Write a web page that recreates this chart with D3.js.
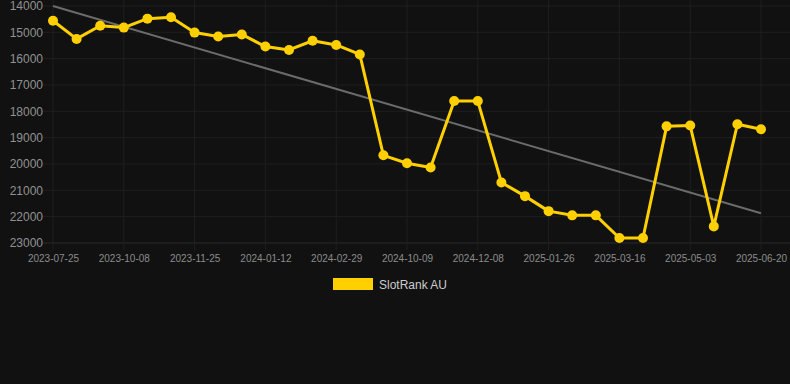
<!DOCTYPE html>
<html>
<head>
<meta charset="utf-8">
<script src="https://cdn.jsdelivr.net/npm/d3@7"></script>
<style>
  html, body { margin: 0; padding: 0; background: #111111; }
  svg { display: block; font-family: "Liberation Sans", Arial, sans-serif; }
</style>
</head>
<body>
<div id="chart"></div>
<script>
// rank values, one per sample (lower rank number = better)
const ranks = [14560, 15250, 14750, 14820, 14480, 14430, 15010, 15160, 15080, 15540,
  15670, 15320, 15480, 15840, 19670, 19970, 20130, 17610, 17610, 20700,
  21220, 21790, 21950, 21950, 22810, 22810, 18570, 18540, 22370, 18490, 18680];
// labels shown on every 3rd sample
const tickLabels = ["2023-07-25", "2023-10-08", "2023-11-25", "2024-01-12", "2024-02-29",
  "2024-10-09", "2024-12-08", "2025-01-26", "2025-03-16", "2025-05-03", "2025-06-20"];
const yTicks = [14000, 15000, 16000, 17000, 18000, 19000, 20000, 21000, 22000, 23000];
const trend = [14000, 21870]; // start / end of trend line
const seriesName = "SlotRank AU";

const W = 790, H = 384;
const svg = d3.select("#chart").append("svg")
  .attr("width", W).attr("height", H);

svg.append("rect").attr("width", W).attr("height", H).attr("fill", "#111111");

const idx = d3.range(ranks.length);
const x = d3.scaleLinear().domain([0, ranks.length - 1]).range([53, 761]);
const y = d3.scaleLinear().domain([14000, 23000]).range([6, 243]);

// horizontal grid
svg.append("g")
  .selectAll("line")
  .data(yTicks)
  .join("line")
  .attr("x1", 43).attr("x2", W)
  .attr("y1", d => y(d)).attr("y2", d => y(d))
  .attr("stroke", d => d == 23000 ? "#2a2a2a" : "#1f1f1f")
  .attr("stroke-width", 1);

// vertical grid at every 3rd point
const xTickIdx = idx.filter(i => i % 3 == 0);
svg.append("g")
  .selectAll("line")
  .data(xTickIdx)
  .join("line")
  .attr("x1", d => x(d)).attr("x2", d => x(d))
  .attr("y1", 0).attr("y2", 250)
  .attr("stroke", "#1f1f1f");

// y axis
const yAxis = svg.append("g")
  .attr("transform", "translate(43,0)")
  .call(d3.axisLeft(y).tickValues(yTicks).tickSize(0).tickPadding(0).tickFormat(d3.format("d")));
yAxis.select(".domain").remove();
yAxis.selectAll("text").attr("fill", "#919191").style("font-size", "12px");

// x axis
const xAxis = svg.append("g")
  .attr("transform", "translate(0,243)")
  .call(d3.axisBottom(x).tickValues(xTickIdx).tickSize(0).tickPadding(12)
    .tickFormat(d => tickLabels[d / 3]));
xAxis.select(".domain").remove();
xAxis.selectAll("text").attr("fill", "#8c8c8c").style("font-size", "10px");

// trend line
svg.append("line")
  .attr("x1", x(0)).attr("y1", y(trend[0]))
  .attr("x2", x(ranks.length - 1)).attr("y2", y(trend[1]))
  .attr("stroke", "#6b6b6b")
  .attr("stroke-width", 2);

// series line
const line = d3.line().x(i => x(i)).y(i => y(ranks[i]));
svg.append("path")
  .datum(idx)
  .attr("d", line)
  .attr("fill", "none")
  .attr("stroke", "#ffd000")
  .attr("stroke-width", 3)
  .attr("stroke-linejoin", "round");

svg.append("g")
  .selectAll("circle")
  .data(idx)
  .join("circle")
  .attr("cx", i => x(i))
  .attr("cy", i => y(ranks[i]))
  .attr("r", 5)
  .attr("fill", "#ffd000");

// legend
svg.append("rect")
  .attr("x", 333).attr("y", 278)
  .attr("width", 40).attr("height", 12)
  .attr("fill", "#ffd000");
svg.append("text")
  .attr("x", 379).attr("y", 288.5)
  .attr("fill", "#cccccc")
  .style("font-size", "12px")
  .text(seriesName);
</script>
</body>
</html>
